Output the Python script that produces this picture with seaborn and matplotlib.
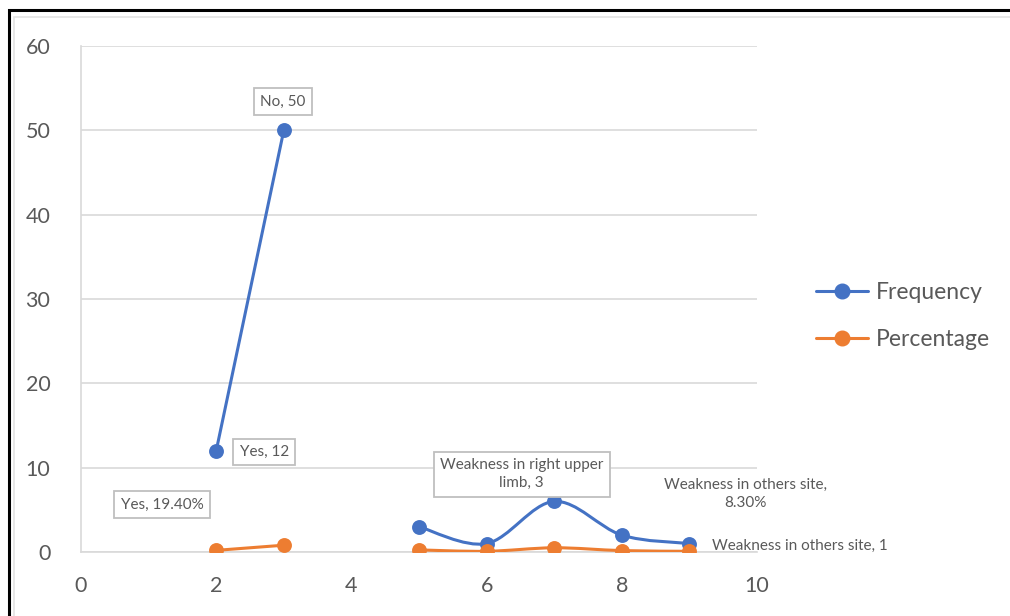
import numpy as np
import matplotlib
matplotlib.use("Agg")
import matplotlib.pyplot as plt
from matplotlib.path import Path
from matplotlib.patches import PathPatch, Rectangle
from matplotlib.lines import Line2D
import seaborn as sns

# Category positions and counts
x_yesno = [2, 3]
freq_yesno = [12, 50]
pct_yesno = [0.194, 0.806]
labels_yesno = ["Yes", "No"]

x_site = [5, 6, 7, 8, 9]
freq_site = [3, 1, 6, 2, 1]
pct_site = [0.25, 0.083, 0.5, 0.167, 0.083]
labels_site = ["Weakness in right upper limb", "Weakness in left upper limb",
               "Weakness in right lower limb", "Weakness in left lower limb",
               "Weakness in others site"]

x_ticks = [0, 2, 4, 6, 8, 10]
y_ticks = [0, 10, 20, 30, 40, 50, 60]

BLUE = "#4472C4"
ORANGE = "#ED7D31"
TEXT = "#595959"
GRID = "#D9D9D9"

sns.set_theme(style="white")
plt.rcParams["font.family"] = ["Lato", "DejaVu Sans"]


def smooth_path(xs, ys):
    """Cubic Bezier path through the points (Excel-style smoothed line)."""
    pts = np.column_stack([xs, ys]).astype(float)
    n = len(pts)
    verts = [pts[0]]
    codes = [Path.MOVETO]
    if n == 2:
        verts.append(pts[1])
        codes.append(Path.LINETO)
        return Path(verts, codes)
    for i in range(n - 1):
        p_prev = pts[max(i - 1, 0)]
        p0 = pts[i]
        p1 = pts[i + 1]
        p_next = pts[min(i + 2, n - 1)]
        c1 = p0 + (p1 - p_prev) / 6.0
        c2 = p1 - (p_next - p0) / 6.0
        verts += [c1, c2, p1]
        codes += [Path.CURVE4] * 3
    return Path(verts, codes)


fig = plt.figure(figsize=(10.10, 6.16), dpi=100)
ax = fig.add_axes([81 / 1010, 1 - 552 / 616, (757 - 81) / 1010, (552 - 46) / 616])

# Lines
for xs, ys, col in [(x_yesno, freq_yesno, BLUE), (x_site, freq_site, BLUE),
                    (x_yesno, pct_yesno, ORANGE), (x_site, pct_site, ORANGE)]:
    ax.add_patch(PathPatch(smooth_path(xs, ys), facecolor="none", edgecolor=col,
                           lw=2.2, capstyle="round", joinstyle="round", zorder=3))

# Markers
sns.scatterplot(x=x_yesno + x_site, y=freq_yesno + freq_site, ax=ax, color=BLUE,
                s=115, edgecolor=BLUE, linewidth=0, zorder=4)
sns.scatterplot(x=x_yesno + x_site, y=pct_yesno + pct_site, ax=ax, color=ORANGE,
                s=115, edgecolor=ORANGE, linewidth=0, zorder=5)

ax.set_xlim(0, 10)
ax.set_ylim(0, 60)
ax.set_xticks(x_ticks)
ax.set_yticks(y_ticks)
ax.tick_params(axis="both", length=0, labelsize=15.5, labelcolor=TEXT)
ax.tick_params(axis="x", pad=17)
ax.tick_params(axis="y", pad=22)
ax.yaxis.grid(True, color=GRID, lw=1.2)
ax.set_axisbelow(True)
for side in ["top", "right"]:
    ax.spines[side].set_visible(False)
for side in ["left", "bottom"]:
    ax.spines[side].set_color(GRID)
    ax.spines[side].set_linewidth(1.2)

box = dict(boxstyle="square,pad=0.42", facecolor="white", edgecolor="#BFBFBF", lw=1.3)
lab_kw = dict(fontsize=11, color=TEXT, ha="center", va="center", zorder=6)

ax.text(2.99, 53.4, f"{labels_yesno[1]}, {freq_yesno[1]}", bbox=box, **lab_kw)
ax.text(2.71, 11.85, f"{labels_yesno[0]}, {freq_yesno[0]}", bbox=box, **lab_kw)
ax.text(1.2, 5.6, f"{labels_yesno[0]}, {pct_yesno[0] * 100:.2f}%", bbox=box, **lab_kw)
ax.text(6.52, 9.2, "Weakness in right upper\nlimb, " + f"{freq_site[0]}",
        bbox=box, linespacing=1.35, **lab_kw)
ax.text(9.83, 6.85, f"{labels_site[4]},\n{pct_site[4] * 100:.2f}%",
        linespacing=1.35, fontsize=11, color=TEXT, ha="center", va="center",
        clip_on=False)
ax.text(9.33, 0.72, f"{labels_site[4]}, {freq_site[4]}", fontsize=11, color=TEXT,
        ha="left", va="center", clip_on=False)

# Legend
handles = [Line2D([], [], color=BLUE, lw=2.2, marker="o", markersize=10.5),
           Line2D([], [], color=ORANGE, lw=2.2, marker="o", markersize=10.5)]
fig.legend(handles, ["Frequency", "Percentage"], loc="center left",
           bbox_to_anchor=(795 / 1010, 1 - 316 / 616), frameon=False,
           fontsize=16.5, labelcolor=TEXT, handlelength=2.3, handletextpad=0.35,
           labelspacing=1.15)

# Chart frame
fig.patches.append(Rectangle((14 / 1010, -0.05), 1.1, 1 - 17 / 616 + 0.05,
                             transform=fig.transFigure, fill=False,
                             edgecolor="#E3E3E3", lw=1.2))
fig.patches.append(Rectangle((8.5 / 1010, -0.05), 1.1, 1 - 9.5 / 616 + 0.05,
                             transform=fig.transFigure, fill=False,
                             edgecolor="black", lw=2.2))

fig.savefig("out.png", dpi=100, facecolor="white")
